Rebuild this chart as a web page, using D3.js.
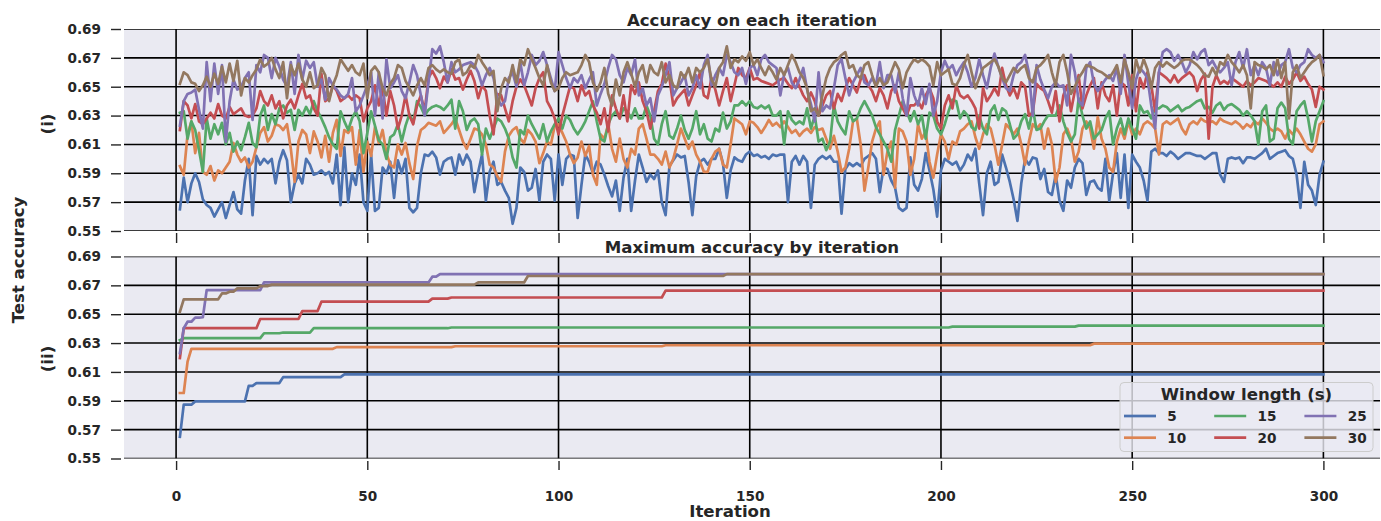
<!DOCTYPE html>
<html><head><meta charset="utf-8">
<script src="https://cdn.jsdelivr.net/npm/d3@7/dist/d3.min.js"></script>
<style>
body{margin:0;background:#fff}
text{font-family:"DejaVu Sans",sans-serif;font-weight:bold;fill:#262626}
</style>
</head><body>
<svg id="chart" width="1381" height="521"></svg>
<script>
// ---------------- data ----------------
const windowLengths = ["5", "10", "15", "20", "25", "30"];
const seriesColors = ["#4C72B0", "#DD8452", "#55A868", "#C44E52", "#8172B3", "#937860"];
const yTickValues = [0.55, 0.57, 0.59, 0.61, 0.63, 0.65, 0.67, 0.69];
const xTickValues = [0, 50, 100, 150, 200, 250, 300];

// accuracy on each iteration (iterations 1..300)
const acc5 = [
.565,.587,.570,.583,.590,.584,.572,.568,.566,.560,
.565,.570,.559,.568,.577,.565,.562,.585,.600,.561,
.602,.596,.600,.597,.600,.583,.598,.606,.599,.570,
.583,.589,.583,.600,.596,.589,.590,.592,.589,.591,
.583,.603,.568,.608,.570,.590,.582,.603,.570,.564,
.603,.564,.566,.594,.590,.598,.573,.599,.590,.600,
.566,.563,.566,.590,.603,.602,.605,.601,.589,.598,
.600,.601,.589,.603,.596,.603,.598,.577,.591,.603,
.571,.591,.598,.582,.584,.578,.573,.555,.566,.594,
.591,.578,.580,.593,.571,.598,.603,.600,.571,.603,
.582,.600,.603,.602,.559,.582,.603,.598,.590,.598,
.596,.589,.581,.574,.585,.564,.587,.600,.564,.585,
.603,.594,.584,.589,.586,.592,.570,.561,.595,.599,
.603,.601,.602,.584,.561,.588,.598,.600,.596,.600,
.600,.607,.597,.573,.592,.601,.599,.598,.603,.605,
.602,.603,.601,.602,.600,.603,.602,.603,.603,.570,
.598,.602,.596,.602,.598,.566,.596,.600,.602,.600,
.602,.598,.598,.562,.593,.597,.595,.597,.595,.600,
.602,.604,.600,.577,.594,.593,.585,.580,.566,.564,
.566,.601,.582,.578,.586,.604,.592,.579,.560,.592,
.600,.598,.596,.598,.592,.596,.603,.599,.607,.583,
.561,.590,.598,.582,.584,.603,.594,.584,.572,.557,
.583,.600,.596,.601,.600,.586,.593,.577,.575,.589,
.571,.564,.585,.580,.594,.600,.597,.575,.584,.585,
.580,.578,.600,.571,.590,.604,.573,.603,.566,.603,
.598,.594,.585,.571,.605,.607,.604,.604,.602,.605,
.603,.600,.602,.604,.604,.603,.602,.602,.600,.602,
.604,.604,.589,.584,.600,.601,.600,.601,.597,.601,
.601,.600,.602,.604,.607,.600,.602,.604,.605,.606,
.602,.600,.589,.566,.598,.582,.578,.568,.589,.598];
const acc10 = [
.595,.589,.617,.626,.604,.618,.591,.589,.595,.585,
.592,.590,.594,.598,.611,.603,.598,.601,.594,.598,
.608,.618,.622,.612,.616,.624,.623,.620,.624,.607,
.584,.612,.620,.617,.604,.619,.612,.601,.616,.598,
.618,.627,.602,.620,.618,.622,.596,.620,.591,.612,
.602,.622,.611,.620,.604,.596,.594,.610,.603,.611,
.597,.586,.609,.620,.622,.625,.624,.623,.626,.618,
.621,.624,.628,.620,.612,.607,.614,.621,.620,.617,
.610,.596,.594,.588,.584,.605,.616,.620,.622,.614,
.611,.620,.617,.612,.597,.604,.612,.610,.623,.624,
.618,.612,.603,.597,.601,.612,.602,.609,.589,.582,
.617,.614,.624,.607,.598,.614,.600,.594,.607,.603,
.621,.624,.614,.603,.603,.600,.596,.605,.594,.600,
.610,.621,.614,.607,.612,.603,.598,.591,.591,.600,
.605,.607,.596,.594,.610,.628,.626,.624,.617,.626,
.625,.622,.618,.622,.627,.623,.625,.622,.626,.622,
.618,.620,.616,.619,.621,.618,.622,.620,.621,.614,
.607,.616,.605,.591,.594,.607,.626,.628,.610,.578,
.594,.612,.621,.626,.589,.605,.612,.580,.621,.619,
.612,.589,.600,.624,.614,.619,.598,.587,.603,.617,
.612,.600,.612,.610,.619,.621,.624,.626,.615,.607,
.617,.624,.621,.610,.596,.610,.624,.621,.617,.621,
.610,.596,.612,.624,.621,.624,.607,.621,.610,.584,
.594,.617,.621,.614,.598,.605,.621,.626,.621,.607,
.629,.614,.607,.594,.591,.612,.621,.614,.626,.617,
.621,.617,.624,.626,.624,.621,.603,.624,.626,.624,
.626,.628,.621,.617,.624,.626,.624,.628,.626,.625,
.626,.624,.628,.626,.625,.624,.626,.624,.621,.624,
.622,.626,.624,.628,.625,.621,.619,.621,.619,.614,
.620,.617,.621,.617,.612,.607,.605,.610,.624,.626];
const acc15 = [
.632,.633,.614,.626,.620,.606,.591,.628,.614,.624,
.617,.625,.610,.618,.605,.612,.606,.615,.625,.611,
.608,.630,.637,.620,.631,.624,.635,.637,.632,.634,
.620,.634,.630,.636,.631,.640,.633,.628,.622,.615,
.610,.607,.633,.626,.620,.628,.633,.626,.604,.618,
.633,.623,.613,.610,.600,.615,.617,.624,.612,.623,
.631,.625,.640,.636,.630,.634,.636,.637,.636,.634,
.637,.641,.621,.640,.633,.620,.626,.628,.624,.603,
.621,.614,.621,.628,.626,.621,.614,.601,.594,.620,
.617,.630,.624,.619,.614,.624,.612,.619,.624,.628,
.621,.630,.627,.621,.617,.621,.626,.633,.640,.626,
.614,.612,.624,.630,.633,.628,.635,.633,.628,.635,
.628,.628,.637,.630,.614,.610,.624,.633,.616,.614,
.621,.630,.620,.614,.621,.633,.617,.624,.614,.612,
.621,.619,.632,.621,.626,.637,.637,.640,.637,.640,
.636,.635,.637,.635,.637,.630,.630,.633,.610,.633,
.627,.624,.626,.624,.635,.621,.630,.612,.614,.606,
.612,.637,.626,.621,.617,.633,.626,.628,.635,.640,
.635,.630,.622,.617,.612,.607,.598,.620,.630,.640,
.633,.626,.633,.624,.630,.614,.632,.630,.621,.617,
.624,.633,.641,.640,.628,.633,.630,.622,.620,.630,
.621,.617,.633,.637,.627,.635,.633,.624,.614,.617,
.626,.631,.621,.635,.620,.621,.626,.630,.630,.630,
.637,.626,.618,.612,.617,.642,.630,.621,.626,.614,
.617,.620,.628,.633,.610,.621,.628,.617,.628,.621,
.614,.637,.632,.633,.628,.635,.635,.637,.636,.633,
.635,.637,.633,.635,.636,.638,.640,.641,.635,.636,
.632,.637,.639,.634,.637,.638,.636,.634,.630,.633,
.630,.626,.610,.633,.637,.612,.614,.635,.639,.635,
.614,.610,.633,.637,.640,.628,.612,.626,.633,.640];
const acc20 = [
.620,.640,.637,.628,.638,.626,.624,.628,.632,.628,
.638,.630,.628,.636,.631,.633,.635,.630,.629,.630,
.635,.647,.640,.637,.644,.635,.640,.628,.637,.641,
.635,.644,.652,.642,.644,.635,.630,.659,.640,.642,
.651,.647,.640,.642,.644,.641,.644,.642,.626,.635,
.640,.651,.637,.649,.630,.647,.637,.621,.630,.644,
.630,.624,.637,.644,.633,.656,.661,.656,.649,.657,
.653,.662,.655,.656,.648,.655,.661,.654,.642,.651,
.647,.630,.617,.645,.644,.635,.626,.640,.650,.655,
.651,.644,.637,.649,.656,.660,.640,.635,.628,.617,
.630,.640,.650,.649,.640,.651,.644,.647,.637,.632,
.624,.635,.619,.644,.635,.628,.644,.626,.651,.645,
.653,.640,.633,.621,.633,.647,.652,.666,.656,.637,
.642,.645,.648,.637,.644,.651,.660,.644,.642,.656,
.648,.637,.647,.656,.640,.651,.663,.658,.656,.663,
.655,.656,.654,.653,.652,.651,.653,.655,.656,.652,
.649,.656,.650,.644,.640,.646,.640,.630,.637,.644,
.647,.635,.645,.640,.649,.656,.651,.646,.655,.658,
.651,.647,.640,.649,.644,.635,.647,.651,.640,.635,
.630,.637,.637,.640,.635,.644,.649,.642,.626,.621,
.637,.644,.635,.651,.644,.642,.644,.640,.635,.621,
.649,.640,.644,.649,.644,.663,.651,.644,.649,.642,
.653,.650,.630,.632,.652,.649,.647,.640,.632,.647,
.626,.644,.651,.633,.647,.658,.635,.644,.651,.656,
.635,.653,.644,.640,.651,.630,.653,.651,.637,.658,
.633,.656,.649,.660,.651,.633,.660,.658,.656,.653,
.658,.653,.656,.658,.660,.657,.647,.655,.659,.614,
.650,.658,.652,.654,.652,.656,.654,.652,.650,.654,
.651,.653,.656,.655,.654,.652,.650,.653,.650,.657,
.652,.655,.660,.654,.657,.652,.648,.636,.650,.648];
const acc25 = [
.623,.640,.645,.646,.648,.634,.621,.667,.640,.666,
.645,.665,.612,.640,.655,.648,.650,.656,.660,.627,
.665,.660,.672,.670,.656,.670,.664,.655,.650,.667,
.645,.672,.655,.668,.663,.667,.650,.655,.641,.656,
.651,.648,.644,.642,.645,.656,.633,.637,.644,.651,
.660,.630,.660,.628,.669,.649,.653,.658,.647,.642,
.653,.665,.658,.644,.630,.653,.676,.673,.678,.667,
.653,.667,.660,.662,.665,.666,.667,.665,.660,.651,
.658,.663,.656,.642,.637,.640,.656,.660,.650,.667,
.651,.660,.672,.665,.668,.674,.665,.656,.647,.674,
.665,.656,.649,.656,.653,.658,.649,.655,.660,.637,
.645,.652,.663,.672,.669,.658,.653,.663,.658,.669,
.644,.649,.637,.642,.626,.644,.650,.658,.667,.644,
.649,.653,.658,.644,.649,.658,.649,.665,.672,.651,
.658,.663,.658,.672,.667,.660,.658,.663,.652,.663,
.665,.658,.669,.672,.667,.665,.663,.644,.659,.663,
.653,.649,.655,.663,.648,.638,.626,.660,.633,.637,
.635,.649,.665,.669,.656,.644,.653,.658,.663,.653,
.651,.656,.651,.667,.649,.658,.658,.646,.660,.642,
.630,.656,.644,.637,.649,.638,.652,.630,.640,.660,
.668,.662,.665,.658,.663,.667,.660,.650,.656,.669,
.658,.649,.663,.673,.664,.656,.649,.647,.658,.665,
.667,.672,.660,.630,.665,.655,.648,.642,.650,.653,
.650,.651,.637,.672,.660,.640,.637,.663,.667,.652,
.647,.651,.655,.658,.654,.663,.645,.672,.652,.635,
.655,.663,.660,.656,.637,.621,.660,.674,.676,.674,
.668,.672,.667,.660,.665,.674,.669,.674,.676,.665,
.668,.663,.660,.663,.667,.651,.667,.674,.663,.676,
.658,.665,.658,.667,.663,.651,.667,.658,.665,.667,
.676,.663,.660,.665,.667,.676,.672,.670,.672,.667];
const acc30 = [
.652,.660,.658,.653,.652,.647,.651,.657,.650,.659,
.652,.664,.653,.666,.654,.668,.644,.656,.653,.658,
.662,.669,.664,.666,.670,.662,.656,.667,.642,.665,
.658,.666,.655,.650,.660,.649,.651,.663,.658,.640,
.651,.658,.669,.665,.661,.665,.660,.658,.666,.642,
.661,.664,.660,.649,.644,.652,.656,.665,.663,.654,
.649,.644,.651,.656,.651,.663,.665,.662,.660,.662,
.660,.659,.667,.669,.658,.660,.665,.663,.672,.667,
.663,.658,.661,.633,.649,.656,.653,.665,.653,.669,
.665,.676,.669,.663,.656,.651,.665,.653,.647,.649,
.656,.660,.658,.659,.660,.665,.672,.667,.653,.647,
.653,.663,.645,.637,.655,.644,.660,.667,.659,.650,
.660,.665,.653,.665,.660,.658,.667,.653,.658,.651,
.649,.660,.656,.663,.653,.663,.660,.663,.669,.655,
.650,.663,.667,.678,.663,.669,.667,.671,.668,.674,
.665,.669,.663,.658,.664,.660,.655,.663,.658,.665,
.672,.667,.660,.656,.649,.633,.635,.630,.644,.656,
.663,.667,.669,.672,.674,.663,.665,.658,.656,.665,
.667,.658,.650,.656,.651,.653,.660,.667,.662,.649,
.660,.665,.669,.667,.669,.667,.664,.651,.667,.658,
.660,.662,.652,.651,.656,.665,.672,.660,.649,.656,
.663,.665,.667,.669,.664,.656,.653,.658,.663,.660,
.663,.665,.656,.653,.663,.665,.668,.672,.660,.651,
.667,.672,.660,.645,.650,.656,.660,.665,.664,.663,
.661,.660,.658,.656,.660,.665,.653,.669,.660,.649,
.669,.660,.669,.662,.649,.663,.667,.664,.667,.665,
.663,.665,.668,.669,.669,.667,.665,.662,.658,.657,
.663,.658,.667,.665,.672,.667,.664,.660,.665,.658,
.635,.667,.665,.664,.662,.665,.658,.669,.656,.667,
.628,.660,.665,.656,.660,.664,.667,.669,.672,.658];

// maximum accuracy so far: [iteration where a new maximum is reached, value]
const max5  = [[1,.5650],[2,.5873],[5,.5896],[19,.6004],[21,.6023],[28,.6064],[44,.6083]];
const max10 = [[1,.5954],[3,.6172],[4,.6260],[42,.6272],[73,.6278],[128,.6285],[240,.6296]];
const max15 = [[1,.6320],[2,.6334],[23,.6368],[28,.6373],[36,.6403],[72,.6408],[203,.6414],[236,.6421]];
const max20 = [[1,.6196],[2,.6403],[22,.6467],[33,.6522],[38,.6587],[67,.6608],[72,.6616],[128,.6663]];
const max25 = [[1,.6230],[2,.6403],[3,.6448],[5,.6476],[7,.6479],[8,.6667],[23,.6720],[67,.6760],[69,.6778]];
const max30 = [[1,.6517],[2,.6603],[12,.6644],[14,.6656],[16,.6679],[22,.6695],[25,.6705],[79,.6720],[92,.6765],[144,.6778]];

const perIteration = [acc5, acc10, acc15, acc20, acc25, acc30];
const maxSteps = [max5, max10, max15, max20, max25, max30];
const iterations = d3.range(1, 301);

// ---------------- drawing ----------------
const svg = d3.select("#chart");
const left = 124, right = 1380;
const x = d3.scaleLinear().domain([-13.62, 314.8]).range([left, right]);

const panels = [
  {top: 29, bottom: 231, title: "Accuracy on each iteration", ylab: "(i)", ylabY: 124, labels: false,
   tickY0: 233, tickY1: 243},
  {top: 256.5, bottom: 458.5, title: "Maximum accuracy by iteration", ylab: "(ii)", ylabY: 359, labels: true,
   tickY0: 461, tickY1: 470}
];

function stepSeries(steps) {
  return iterations.map(it => {
    let v = steps[0][1];
    for (const s of steps) if (s[0] <= it) v = s[1];
    return v;
  });
}

panels.forEach((p, pi) => {
  const y = d3.scaleLinear().domain([0.55, 0.69]).range([p.bottom, p.top]);
  const g = svg.append("g");
  const clipId = "clip" + pi;
  svg.append("clipPath").attr("id", clipId).append("rect")
    .attr("x", left).attr("y", p.top).attr("width", right - left).attr("height", p.bottom - p.top);

  g.append("rect").attr("x", left).attr("y", p.top).attr("width", right - left)
    .attr("height", p.bottom - p.top).attr("fill", "#EAEAF2");

  // grid
  const grid = g.append("g").attr("clip-path", `url(#${clipId})`);
  yTickValues.forEach(v => {
    grid.append("line").attr("x1", left).attr("x2", right)
      .attr("y1", y(v)).attr("y2", y(v)).attr("stroke", "#000").attr("stroke-width", 1.6);
  });
  xTickValues.forEach(v => {
    grid.append("line").attr("x1", x(v)).attr("x2", x(v))
      .attr("y1", p.top).attr("y2", p.bottom).attr("stroke", "#000").attr("stroke-width", 1.6);
  });

  // y axis
  const yAxis = d3.axisLeft(y).tickValues(yTickValues).tickFormat(d3.format(".2f")).tickSize(10).tickPadding(10);
  const ya = svg.append("g").attr("transform", `translate(121,0)`).call(yAxis);
  ya.select(".domain").remove();
  ya.selectAll(".tick line").attr("stroke", "#262626").attr("stroke-width", 1.4);
  ya.selectAll(".tick text").style("font-size", "13.6px").attr("fill", "#262626");

  // x axis
  const xAxis = d3.axisBottom(x).tickValues(xTickValues).tickSize(p.tickY1 - p.tickY0).tickPadding(21)
    .tickFormat(p.labels ? d3.format("d") : "");
  const xa = svg.append("g").attr("transform", `translate(0,${p.tickY0})`).call(xAxis);
  xa.select(".domain").remove();
  xa.selectAll(".tick line").attr("stroke", "#262626").attr("stroke-width", 1.4);
  xa.selectAll(".tick text").style("font-size", "13.6px").attr("fill", "#262626");

  // lines
  const line = d3.line().x((d, i) => x(iterations[i])).y(d => y(d));
  const lg = g.append("g").attr("clip-path", `url(#${clipId})`);
  const data = pi === 0 ? perIteration : maxSteps.map(stepSeries);
  data.forEach((vals, si) => {
    lg.append("path").datum(vals).attr("d", line).attr("fill", "none")
      .attr("stroke", seriesColors[si]).attr("stroke-width", 2.7)
      .attr("stroke-linejoin", "round").attr("stroke-linecap", "square");
  });

  // title
  svg.append("text").attr("x", (left + right) / 2).attr("y", p.top - 3.5).attr("text-anchor", "middle")
    .style("font-size", "16.6px").text(p.title);
  // panel label
  svg.append("text").attr("transform", `translate(53,${p.ylabY}) rotate(-90)`).attr("text-anchor", "middle")
    .style("font-size", "16.6px").text(p.ylab);
});

// shared labels
svg.append("text").attr("transform", "translate(24,260) rotate(-90)").attr("text-anchor", "middle")
  .style("font-size", "16.6px").text("Test accuracy");
svg.append("text").attr("x", 730).attr("y", 517).attr("text-anchor", "middle")
  .style("font-size", "16.6px").text("Iteration");

// legend
const lgx = 1120, lgy = 382.5;
const leg = svg.append("g");
leg.append("rect").attr("x", lgx).attr("y", lgy).attr("width", 253).attr("height", 69).attr("rx", 4)
  .attr("fill", "#EAEAF2").attr("fill-opacity", 0.8).attr("stroke", "#cccccc").attr("stroke-width", 1);
leg.append("text").attr("x", lgx + 126.5).attr("y", lgy + 11.5).attr("text-anchor", "middle")
  .attr("dominant-baseline", "central").style("font-size", "16.6px").text("Window length (s)");
windowLengths.forEach((w, k) => {
  const col = Math.floor(k / 2), row = k % 2;
  const hx = 1124 + col * 90.2, hy = 416 + row * 21.7;
  leg.append("line").attr("x1", hx).attr("x2", hx + 32).attr("y1", hy).attr("y2", hy)
    .attr("stroke", seriesColors[k]).attr("stroke-width", 2.7);
  leg.append("text").attr("x", hx + 43.3).attr("y", hy).attr("dominant-baseline", "central")
    .style("font-size", "13.6px").text(w);
});
</script>
</body></html>
